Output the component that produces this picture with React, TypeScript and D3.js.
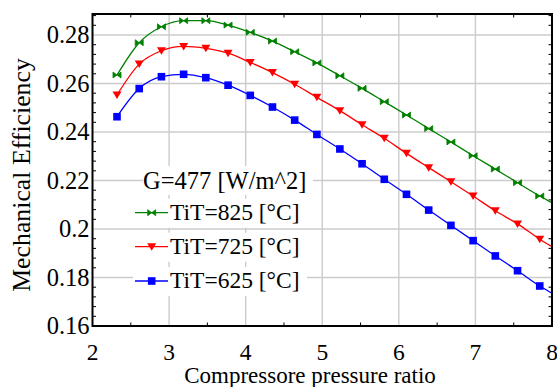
import React from "react";
import * as d3 from "d3";

const pressureRatio = [2.32, 2.61, 2.9, 3.19, 3.48, 3.77, 4.06, 4.35, 4.64, 4.93, 5.23, 5.52, 5.81, 6.1, 6.39, 6.68, 6.97, 7.26, 7.55, 7.84, 8.0];
const tit825 = [0.2635, 0.2768, 0.2834, 0.2859, 0.2859, 0.2841, 0.2811, 0.2775, 0.2731, 0.2685, 0.2632, 0.258, 0.2525, 0.247, 0.2414, 0.2359, 0.2302, 0.2247, 0.2191, 0.2136, 0.2108];
const tit725 = [0.2553, 0.268, 0.2735, 0.2753, 0.2745, 0.2725, 0.2687, 0.2645, 0.2597, 0.2543, 0.2488, 0.243, 0.2374, 0.2312, 0.2253, 0.2195, 0.2136, 0.2075, 0.2021, 0.1958, 0.1927];
const tit625 = [0.2463, 0.2579, 0.2628, 0.2638, 0.2624, 0.2593, 0.2551, 0.2503, 0.2449, 0.239, 0.233, 0.2269, 0.2205, 0.2143, 0.2078, 0.2015, 0.1952, 0.1889, 0.1828, 0.1765, 0.1735];
const xTicks = [2, 3, 4, 5, 6, 7, 8];
const yTicks = [0.16, 0.18, 0.2, 0.22, 0.24, 0.26, 0.28];
const legendTitle = "G=477 [W/m^2]";
const seriesLabels = ["TiT=825 [°C]", "TiT=725 [°C]", "TiT=625 [°C]"];

const W = 557, H = 387;
const L = 92.5, R = 552, T = 14, B = 326;
const FONT = "'Liberation Serif', 'Times New Roman', serif";

function Marker({ kind, color }: { kind: string; color: string }) {
  if (kind === "bowtie") return <path d="M-4,-3L4,3L4,-3L-4,3Z" fill={color} stroke={color} strokeWidth={0.8} />;
  if (kind === "tri") return <path d="M-4.5,-3.5L4.5,-3.5L0,4Z" fill={color} />;
  return <rect x={-3.8} y={-3.8} width={7.6} height={7.6} fill={color} />;
}

export default function App() {
  const x = d3.scaleLinear().domain([2, 8]).range([L, R]);
  const y = d3.scaleLinear().domain([0.16, 0.28]).range([B, 35]);
  const yTop = y.invert(T);
  const series = [
    { vals: tit825, color: "#008000", kind: "bowtie", label: seriesLabels[0] },
    { vals: tit725, color: "#ff0000", kind: "tri", label: seriesLabels[1] },
    { vals: tit625, color: "#0000ff", kind: "square", label: seriesLabels[2] },
  ];
  const line = d3
    .line<number>()
    .x((_, i) => x(pressureRatio[i]))
    .y((d) => y(d))
    .curve(d3.curveMonotoneX);
  const xMinor = d3.range(2.5, 8, 1);
  const yMinor = d3.range(0.164, yTop, 0.004).filter((v) => Math.abs((v - 0.16) / 0.02 - Math.round((v - 0.16) / 0.02)) > 0.01);
  const legendRows = [212.7, 246.7, 281];
  return (
    <svg width={W} height={H} style={{ position: "absolute", left: 0, top: 0, background: "#fff" }} fontFamily={FONT}>
      <rect width={W} height={H} fill="#fff" />
      {xTicks.slice(1, -1).map((t) => (
        <line key={"gx" + t} x1={x(t)} x2={x(t)} y1={T} y2={B} stroke="#cccccc" strokeWidth={1.4} />
      ))}
      {yTicks.slice(1).map((t) => (
        <line key={"gy" + t} x1={L} x2={R} y1={y(t)} y2={y(t)} stroke="#cccccc" strokeWidth={1.4} />
      ))}
      {xMinor.map((t) => (
        <g key={"mx" + t}>
          <line x1={x(t)} x2={x(t)} y1={B} y2={B - 3.5} stroke="#000" strokeWidth={1} />
          <line x1={x(t)} x2={x(t)} y1={T} y2={T + 3.5} stroke="#000" strokeWidth={1} />
        </g>
      ))}
      {yMinor.map((t) => (
        <g key={"my" + t}>
          <line x1={L} x2={L + 3.5} y1={y(t)} y2={y(t)} stroke="#000" strokeWidth={1} />
          <line x1={R} x2={R - 3.5} y1={y(t)} y2={y(t)} stroke="#000" strokeWidth={1} />
        </g>
      ))}
      {series.map((s) => (
        <g key={s.label}>
          <path d={line(s.vals) || ""} fill="none" stroke={s.color} strokeWidth={1.3} />
          {s.vals.slice(0, -1).map((v, i) => (
            <g key={i} transform={`translate(${x(pressureRatio[i])},${y(v)})`}>
              <Marker kind={s.kind} color={s.color} />
            </g>
          ))}
        </g>
      ))}
      {/* legend */}
      <rect x={143} y={166} width={170} height={29} fill="#fff" />
      <text x={143} y={189} fontSize={24.5}>{legendTitle}</text>
      {series.map((s, i) => (
        <g key={"lg" + i}>
          <rect x={133} y={legendRows[i] - 14} width={174} height={29} fill="#fff" />
          <line x1={135} x2={168} y1={legendRows[i]} y2={legendRows[i]} stroke={s.color} strokeWidth={1.3} />
          <g transform={`translate(151.7,${legendRows[i]})`}>
            <Marker kind={s.kind} color={s.color} />
          </g>
          <text x={170} y={legendRows[i] + 7} fontSize={23.5}>{s.label}</text>
        </g>
      ))}
      <rect x={L} y={T} width={R - L} height={B - T} fill="none" stroke="#000" strokeWidth={2} />
      {xTicks.map((t) => (
        <text key={"tx" + t} x={x(t)} y={359.5} fontSize={23.5} textAnchor="middle">{t}</text>
      ))}
      {yTicks.map((t) => (
        <text key={"ty" + t} x={89.5} y={y(t) + 8} fontSize={24.5} textAnchor="end">{d3.format("")(+t.toFixed(2))}</text>
      ))}
      <text x={310} y={382.5} fontSize={23} textAnchor="middle">Compressore pressure ratio</text>
      <text transform="translate(30,175) rotate(-90)" fontSize={25.8} textAnchor="middle">Mechanical Efficiency</text>
    </svg>
  );
}
